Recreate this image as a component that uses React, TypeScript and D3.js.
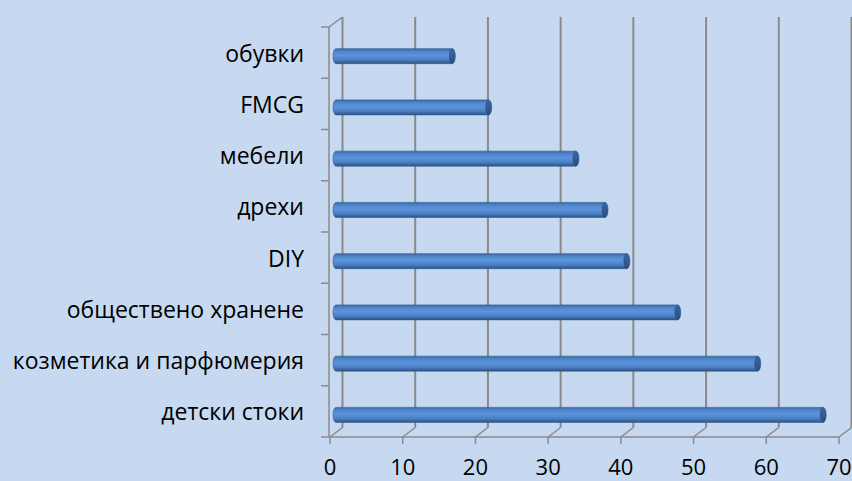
import React, { useRef, useEffect } from 'react';
import * as d3 from 'd3';

// top to bottom, as shown on the chart
const CATEGORIES: string[] = [
  'обувки',
  'FMCG',
  'мебели',
  'дрехи',
  'DIY',
  'обществено хранене',
  'козметика и парфюмерия',
  'детски стоки',
];
const VALUES: number[] = [16, 21, 33, 37, 40, 47, 58, 67];
const TICKS: number[] = [0, 10, 20, 30, 40, 50, 60, 70];

const W = 852;
const H = 481;
const FONT = '"Open Sans", "Noto Sans", sans-serif';

const App: React.FC = () => {
  const svgRef = useRef<SVGSVGElement>(null);

  useEffect(() => {
    if (!svgRef.current) return;
    const svg = d3.select(svgRef.current);
    svg.selectAll('*').remove();

    const x = d3.scaleLinear().domain([0, 70]).range([330, 839]);
    const y = d3.scaleBand().domain(CATEGORIES).range([27, 437]).padding(0);

    // 3d depth offset
    const dx = 12.5;
    const dy = -9.5;
    const floorY = 437;
    const topY = 17;

    svg.append('rect').attr('width', W).attr('height', H).attr('fill', '#c6d9f1');

    const defs = svg.append('defs');
    const grad = defs.append('linearGradient')
      .attr('id', 'cyl')
      .attr('x1', 0).attr('y1', 0).attr('x2', 0).attr('y2', 1);
    grad.append('stop').attr('offset', '0%').attr('stop-color', '#3c6aa6');
    grad.append('stop').attr('offset', '20%').attr('stop-color', '#5086cb');
    grad.append('stop').attr('offset', '45%').attr('stop-color', '#5c94dd');
    grad.append('stop').attr('offset', '75%').attr('stop-color', '#4b7fc1');
    grad.append('stop').attr('offset', '100%').attr('stop-color', '#2c5285');

    const capGrad = defs.append('linearGradient')
      .attr('id', 'cap')
      .attr('x1', 0).attr('y1', 0).attr('x2', 0).attr('y2', 1);
    capGrad.append('stop').attr('offset', '0%').attr('stop-color', '#3a67a2');
    capGrad.append('stop').attr('offset', '100%').attr('stop-color', '#2a4f80');

    const gridColor = '#8a8a8a';

    // back wall gridlines
    svg.append('g')
      .selectAll('line')
      .data(TICKS)
      .join('line')
      .attr('x1', d => x(d) + dx)
      .attr('x2', d => x(d) + dx)
      .attr('y1', floorY + dy)
      .attr('y2', topY)
      .attr('stroke', gridColor)
      .attr('stroke-width', 2);

    // floor diagonals
    svg.append('g')
      .selectAll('line')
      .data(TICKS)
      .join('line')
      .attr('x1', d => x(d))
      .attr('x2', d => x(d) + dx)
      .attr('y1', floorY)
      .attr('y2', floorY + dy)
      .attr('stroke', gridColor)
      .attr('stroke-width', 1.5);

    // front floor edge + ticks
    svg.append('line')
      .attr('x1', x(0)).attr('x2', x(70))
      .attr('y1', floorY).attr('y2', floorY)
      .attr('stroke', gridColor).attr('stroke-width', 1.5);
    svg.append('g')
      .selectAll('line')
      .data(TICKS)
      .join('line')
      .attr('x1', d => x(d)).attr('x2', d => x(d))
      .attr('y1', floorY).attr('y2', floorY + 7)
      .attr('stroke', gridColor).attr('stroke-width', 1.5);

    // left wall edge + category ticks
    const wallX = x(0) - 1;
    svg.append('line')
      .attr('x1', wallX).attr('x2', wallX)
      .attr('y1', 27).attr('y2', floorY)
      .attr('stroke', gridColor).attr('stroke-width', 1.5);
    svg.append('line')
      .attr('x1', wallX).attr('x2', x(0) + dx)
      .attr('y1', 27).attr('y2', topY)
      .attr('stroke', gridColor).attr('stroke-width', 1.5);
    const bounds = CATEGORIES.map(c => y(c)!).concat([437]);
    svg.append('g')
      .selectAll('line')
      .data(bounds)
      .join('line')
      .attr('x1', wallX - 8).attr('x2', wallX)
      .attr('y1', d => d).attr('y2', d => d)
      .attr('stroke', gridColor).attr('stroke-width', 1.5);

    // bars (cylinders)
    const bh = 15;
    const off = 6;
    const cy = (c: string) => y(c)! + y.bandwidth() / 2 + 3.5;
    const bars = svg.append('g')
      .selectAll('g')
      .data(CATEGORIES.map((c, i) => ({ c, v: VALUES[i] })))
      .join('g');
    bars.append('path')
      .attr('d', d => {
        const x0 = x(0) + off;
        const x1 = x(d.v) + off;
        const t = cy(d.c) - bh / 2;
        const b = cy(d.c) + bh / 2;
        return `M${x0},${t} L${x1},${t} L${x1},${b} L${x0},${b} A3,${bh / 2} 0 0 1 ${x0},${t} Z`;
      })
      .attr('fill', 'url(#cyl)')
      .attr('stroke', '#2f5a91')
      .attr('stroke-width', 0.6);
    bars.append('ellipse')
      .attr('cx', d => x(d.v) + off)
      .attr('cy', d => cy(d.c))
      .attr('rx', 3)
      .attr('ry', bh / 2)
      .attr('fill', 'url(#cap)')
      .attr('stroke', '#2b5285')
      .attr('stroke-width', 0.6);

    // category labels
    svg.append('g')
      .selectAll('text')
      .data(CATEGORIES)
      .join('text')
      .attr('x', 304)
      .attr('y', d => y(d)! + y.bandwidth() / 2 + 1)
      .attr('dy', '0.35em')
      .attr('text-anchor', 'end')
      .attr('font-family', FONT)
      .attr('font-size', 23)
      .attr('fill', '#000')
      .text(d => d);

    // value axis labels
    svg.append('g')
      .selectAll('text')
      .data(TICKS)
      .join('text')
      .attr('x', d => x(d))
      .attr('y', 475)
      .attr('text-anchor', 'middle')
      .attr('font-family', FONT)
      .attr('font-size', 22)
      .attr('fill', '#000')
      .text(d => d);
  }, []);

  return (
    <svg
      ref={svgRef}
      width={W}
      height={H}
      style={{ position: 'absolute', left: 0, top: 0, display: 'block' }}
    />
  );
};

export default App;
